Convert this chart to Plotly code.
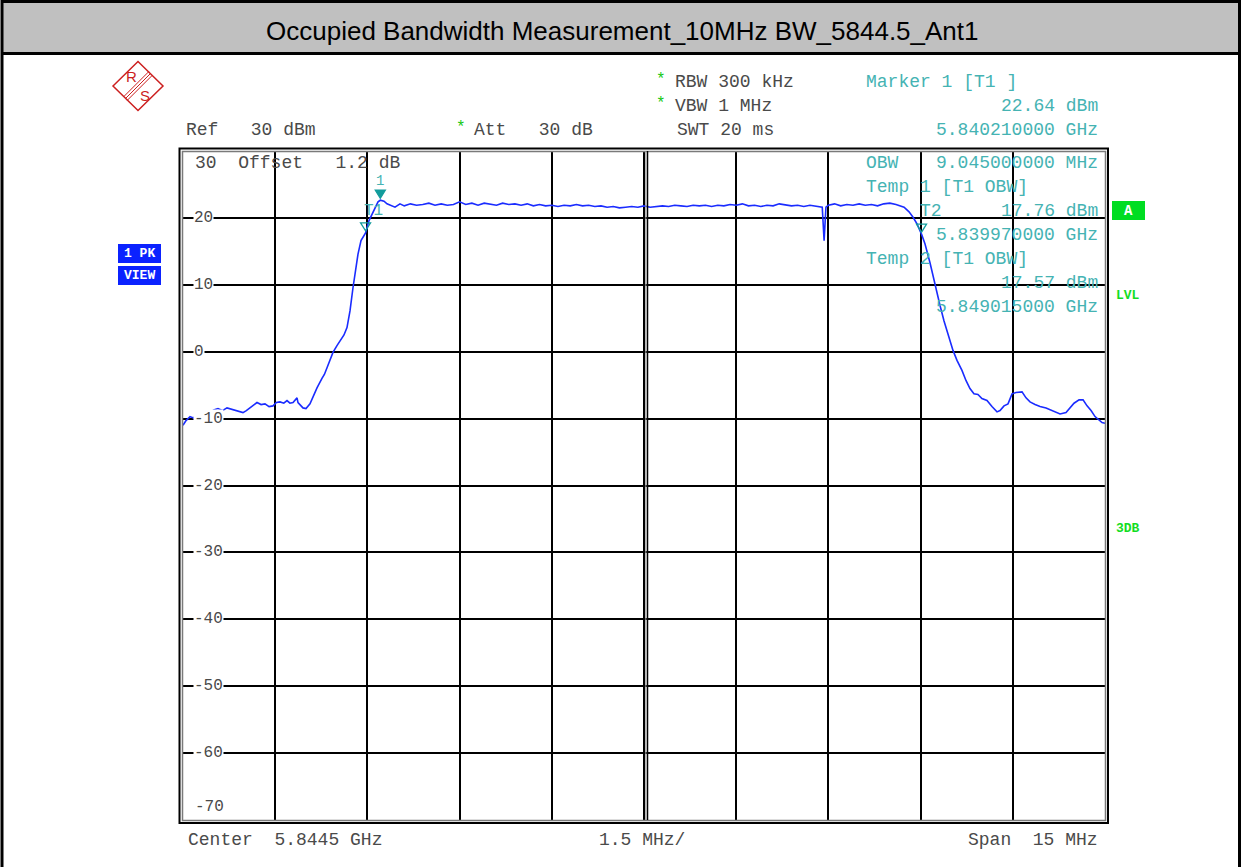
import plotly.graph_objects as go

# ---- spectrum trace (frequency in GHz, level in dBm) ----
freq_ghz = [
    # lower skirt and rising edge
    5.837000, 5.837049, 5.837114, 5.837170, 5.837228, 5.837280, 5.837325, 5.837390,
    5.837439, 5.837500, 5.837569, 5.837640, 5.837716, 5.837780, 5.837846, 5.837910,
    5.837976, 5.838030, 5.838090, 5.838150, 5.838204, 5.838270, 5.838334, 5.838400,
    5.838464, 5.838520, 5.838578, 5.838640, 5.838692, 5.838740, 5.838790, 5.838855,
    5.838871, 5.838952, 5.839001, 5.839066, 5.839120, 5.839180, 5.839261, 5.839300,
    5.839343, 5.839400, 5.839440, 5.839505, 5.839554, 5.839619, 5.839668, 5.839717,
    5.839766, 5.839815, 5.839847, 5.839896, 5.839945, 5.839970, 5.840026, 5.840075,
    5.840124, 5.840173, 5.840210, 5.840270, 5.840319, 5.840384, 5.840449, 5.840530,
    # occupied band
    5.840600, 5.840700, 5.840800, 5.840900, 5.841000, 5.841100, 5.841200, 5.841300,
    5.841400, 5.841500, 5.841600, 5.841700, 5.841800, 5.841900, 5.842000, 5.842100,
    5.842200, 5.842300, 5.842400, 5.842500, 5.842600, 5.842700, 5.842800, 5.842900,
    5.843000, 5.843100, 5.843200, 5.843300, 5.843400, 5.843500, 5.843600, 5.843700,
    5.843800, 5.843900, 5.844000, 5.844100, 5.844200, 5.844300, 5.844400, 5.844500,
    5.844600, 5.844700, 5.844800, 5.844900, 5.845000, 5.845100, 5.845200, 5.845300,
    5.845400, 5.845500, 5.845600, 5.845700, 5.845800, 5.845900, 5.846000, 5.846100,
    5.846200, 5.846300, 5.846400, 5.846500, 5.846600, 5.846700, 5.846800, 5.846900,
    5.847000, 5.847100, 5.847200, 5.847300, 5.847400, 5.847430, 5.847460, 5.847500,
    5.847600, 5.847700, 5.847800, 5.847900, 5.848000, 5.848100, 5.848200, 5.848300,
    5.848400, 5.848500, 5.848600,
    # falling edge and upper skirt
    5.848731, 5.848812, 5.848877, 5.848942, 5.849015, 5.849072, 5.849153, 5.849234,
    5.849316, 5.849381, 5.849446, 5.849527, 5.849592, 5.849673, 5.849738, 5.849803,
    5.849868, 5.849933, 5.849998, 5.850080, 5.850161, 5.850243, 5.850292, 5.850357,
    5.850422, 5.850487, 5.850552, 5.850650, 5.850715, 5.850780, 5.850862, 5.850943,
    5.851041, 5.851155, 5.851269, 5.851366, 5.851431, 5.851496, 5.851578, 5.851643,
    5.851708, 5.851773, 5.851838, 5.851904, 5.851952, 5.852000,
]
level_dbm = [
    # lower skirt and rising edge
    -11.0, -10.3, -9.7, -9.9, -9.3, -9.5, -9.0, -9.3,
    -9.1, -8.7, -8.5, -8.8, -8.4, -8.6, -8.8, -8.9,
    -9.1, -8.8, -8.4, -7.9, -7.6, -7.9, -7.8, -8.2,
    -8.1, -7.6, -7.5, -7.7, -7.3, -7.7, -7.6, -6.9,
    -7.6, -8.4, -8.5, -7.8, -6.6, -5.4, -4.0, -3.4,
    -2.4, -1.2, -0.1, 0.9, 1.6, 2.5, 3.6, 6.1,
    9.6, 12.4, 14.6, 16.6, 17.5, 17.76, 19.6, 20.6,
    21.5, 22.4, 22.64, 22.5, 22.1, 21.9, 21.6, 22.1,
    # occupied band
    21.8, 22.1, 21.9, 22.0, 22.2, 21.9, 22.1, 21.9,
    22.0, 22.4, 22.0, 22.2, 21.9, 22.2, 22.1, 21.9,
    22.2, 22.0, 22.1, 21.9, 22.1, 21.8, 22.0, 21.8,
    21.9, 21.7, 21.9, 21.8, 22.0, 21.8, 21.9, 21.7,
    21.8, 21.6, 21.7, 21.5, 21.6, 21.7, 21.6, 21.8,
    21.6, 21.7, 21.8, 21.7, 21.9, 21.8, 21.7, 21.9,
    21.8, 21.9, 21.7, 21.9, 21.8, 22.0, 21.9, 22.1,
    21.8, 21.9, 21.7, 21.9, 21.8, 22.1, 21.9, 21.8,
    21.9, 21.7, 21.9, 21.8, 21.6, 16.6, 21.6, 21.9,
    22.1, 21.8, 22.0, 21.9, 22.1, 21.9, 22.0, 21.8,
    22.1, 22.2, 22.0,
    # falling edge and upper skirt
    21.6, 20.9, 20.1, 19.1, 17.57, 16.1, 13.3, 9.9,
    6.9, 4.6, 2.7, 0.2, -1.3, -2.8, -4.3, -5.5,
    -6.3, -6.4, -7.0, -7.3, -8.2, -9.0, -8.8, -8.1,
    -7.8, -6.3, -6.1, -6.0, -6.9, -7.5, -7.9, -8.2,
    -8.4, -8.8, -9.3, -9.1, -8.4, -7.7, -7.2, -7.2,
    -8.1, -8.8, -9.7, -10.3, -10.6, -10.7,
]

# ---- markers ----
m1_freq, m1_level = 5.840210, 22.64
t1_freq, t1_level = 5.839970, 17.76
t2_freq, t2_level = 5.849015, 17.57

# ---- instrument settings ----
center_ghz = 5.8445
span_mhz = 15
div_mhz = 1.5
ref_dbm = 30
att_db = 30
offset_db = 1.2
range_db = 100
y_ticks = [20, 10, 0, -10, -20, -30, -40, -50, -60]
title = "Occupied Bandwidth Measurement_10MHz BW_5844.5_Ant1"

# ---- page geometry (pixels) ----
W, H = 1242, 867
L, R, T, B = 183, 1105, 151, 820


def px(x):
    return (x - L) / (R - L)


def py(y):
    return (B - y) / (B - T)


MONO = "Liberation Mono, Courier New, monospace"
GRAY = "#4a4a4a"
TEAL = "#45b3b3"
TEAL_DARK = "#129c9c"
GREEN = "#12dd22"
STAR = "#13c813"
BLUE = "#1a2cff"

x_lo = center_ghz - span_mhz / 2000
x_hi = center_ghz + span_mhz / 2000
y_lo = ref_dbm - range_db

fig = go.Figure()
fig.add_trace(go.Scatter(
    x=freq_ghz, y=level_dbm, mode="lines",
    line=dict(color=BLUE, width=1.6), hoverinfo="skip", showlegend=False,
))

ann = []


def text(x, y, s, color=GRAY, size=18, anchor="left", family=MONO, **kw):
    ann.append(dict(x=px(x), y=py(y), xref="paper", yref="paper", text=s,
                    showarrow=False, xanchor=anchor, yanchor="middle",
                    font=dict(family=family, size=size, color=color), **kw))


# title
text(622, 31, title, color="black", size=26, anchor="center",
     family="Liberation Sans Narrow, Liberation Sans, Arial, sans-serif")

# header settings
text(184, 130, f"Ref   {ref_dbm} dBm")
text(461, 128, "*", color=STAR, size=16, anchor="center")
text(472, 130, f"Att   {att_db} dB")
text(661, 80, "*", color=STAR, size=16, anchor="center")
text(673, 82, "RBW 300 kHz")
text(661, 104, "*", color=STAR, size=16, anchor="center")
text(673, 106, "VBW 1 MHz")
text(675, 130, "SWT 20 ms")

# marker readout
obw_mhz = (t2_freq - t1_freq) * 1000
text(864, 82, "Marker 1 [T1 ]", color=TEAL)
text(1100, 106, f"{m1_level:.2f} dBm", color=TEAL, anchor="right")
text(1100, 130, f"{m1_freq:.9f} GHz", color=TEAL, anchor="right")
text(864, 163, "OBW", color=TEAL)
text(1100, 163, f"{obw_mhz:.9f} MHz", color=TEAL, anchor="right")
text(864, 187, "Temp 1 [T1 OBW]", color=TEAL)
text(918, 211, "T2", color=TEAL)
text(1100, 211, f"{t1_level:.2f} dBm", color=TEAL, anchor="right")
text(1100, 235, f"{t1_freq:.9f} GHz", color=TEAL, anchor="right")
text(864, 259, "Temp 2 [T1 OBW]", color=TEAL)
text(1100, 283, f"{t2_level:.2f} dBm", color=TEAL, anchor="right")
text(1100, 307, f"{t2_freq:.9f} GHz", color=TEAL, anchor="right")

# in-grid reference line text
text(193, 163, f"{ref_dbm}  Offset   {offset_db} dB")
text(193, 807, f"{y_lo}", size=16)

# y tick labels on the grid lines
for v in y_ticks:
    ann.append(dict(x=px(193), y=v, xref="paper", yref="y", text=str(v),
                    showarrow=False, xanchor="left", yanchor="middle",
                    bgcolor="white", borderpad=0,
                    font=dict(family=MONO, size=16, color=GRAY)))

# bottom axis summary
text(186, 840, f"Center  {center_ghz} GHz")
text(597, 840, f"{div_mhz} MHz/")
text(1100, 840, f"Span  {span_mhz} MHz", anchor="right")

# side status labels
text(139.5, 253.5, "<b>1 PK</b>", color="white", size=13, anchor="center")
text(139.5, 275.5, "<b>VIEW</b>", color="white", size=13, anchor="center")
text(1128.5, 210.5, "<b>A</b>", color="white", size=14, anchor="center")
text(1114, 295, "<b>LVL</b>", color=GREEN, size=13)
text(1114, 528, "<b>3DB</b>", color=GREEN, size=13)

# logo letters
text(131, 77, "R", color="#cc1f1f", size=15, anchor="center",
     family="Liberation Sans, Arial, sans-serif")
text(145, 96, "S", color="#cc1f1f", size=15, anchor="center",
     family="Liberation Sans, Arial, sans-serif")

# marker labels
ann.append(dict(x=m1_freq, y=m1_level, xref="x", yref="y", text="1", showarrow=False,
                xanchor="center", yanchor="middle", yshift=19,
                font=dict(family=MONO, size=14, color=TEAL)))
ann.append(dict(x=t1_freq, y=t1_level, xref="x", yref="y", text="T1", showarrow=False,
                xanchor="center", yanchor="middle", yshift=22, xshift=8,
                font=dict(family=MONO, size=16, color=TEAL)))

shapes = []

# marker triangles, tip resting on the measured point (pixel-sized, data-anchored)
for fx, lv, filled in [(m1_freq, m1_level, True),
                       (t1_freq, t1_level, False),
                       (t2_freq, t2_level, False)]:
    shapes.append(dict(type="path", xref="x", yref="y",
                       xsizemode="pixel", ysizemode="pixel",
                       xanchor=fx, yanchor=lv,
                       path="M -5,10 L 5,10 L 0,2 Z",
                       fillcolor=TEAL_DARK if filled else "rgba(0,0,0,0)",
                       line=dict(color=TEAL_DARK, width=1.3), layer="above"))


def rect(x0, y0, x1, y1, fill=None, line="black", width=1.0):
    shapes.append(dict(type="rect", xref="paper", yref="paper",
                       x0=px(x0), x1=px(x1), y0=py(y1), y1=py(y0),
                       fillcolor=fill if fill else "rgba(0,0,0,0)",
                       line=dict(color=line, width=width), layer="above"))


def seg(x0, y0, x1, y1, color="black", width=1.0):
    shapes.append(dict(type="line", xref="paper", yref="paper",
                       x0=px(x0), x1=px(x1), y0=py(y0), y1=py(y1),
                       line=dict(color=color, width=width), layer="above"))


def block(x0, y0, x1, y1, fill):
    shapes.insert(0, dict(type="rect", xref="paper", yref="paper",
                          x0=px(x0), x1=px(x1), y0=py(y1), y1=py(y0),
                          fillcolor=fill, line=dict(width=0), layer="below"))


# page border and title bar
rect(2, 1.5, 1239.5, 900, line="black", width=3)
block(3, 2, 1238.5, 53, "#c0c0c0")
seg(2, 53.5, 1240, 53.5, width=3)

# double frame around the grid
rect(179.5, 148.5, 1108, 823, line="black", width=2)
rect(182.5, 151.5, 1105.5, 820.5, line="#7a7a7a", width=1.5)
# doubled centre line
seg(647.5, 151, 647.5, 820, color="black", width=1.5)
seg(645.8, 151, 645.8, 820, color="#9a9a9a", width=1)

# side status boxes
block(118, 244, 161, 263, "#0b22ff")
block(118, 266, 161, 285, "#0b22ff")
block(1112, 201, 1145, 220, "#00dd22")

# logo diamond with stripes
shapes.append(dict(type="path", xref="paper", yref="paper",
                   path=(f"M {px(113)},{py(86)} L {px(138)},{py(61.5)} "
                         f"L {px(163)},{py(86)} L {px(138)},{py(110.5)} Z"),
                   line=dict(color="#cc1f1f", width=1.5), layer="above"))
for d in (-1.8, 0.0, 1.8):
    seg(150.5 + d, 73.5 + d, 125.5 + d, 98.5 + d, color="#cc1f1f", width=1)

fig.update_layout(
    width=W, height=H, autosize=False,
    margin=dict(l=L, r=W - R, t=T, b=H - B, pad=0),
    paper_bgcolor="white", plot_bgcolor="white",
    showlegend=False,
    annotations=ann, shapes=shapes,
    xaxis=dict(range=[x_lo, x_hi], tick0=x_lo, dtick=div_mhz / 1000,
               showgrid=True, gridcolor="black", gridwidth=2,
               showticklabels=False, ticks="", zeroline=False, showline=False,
               fixedrange=True),
    yaxis=dict(range=[y_lo, ref_dbm], tick0=y_lo, dtick=10,
               showgrid=True, gridcolor="black", gridwidth=2,
               showticklabels=False, ticks="", zeroline=False, showline=False,
               fixedrange=True),
)

fig.write_html("out.html", config={"displayModeBar": False})
